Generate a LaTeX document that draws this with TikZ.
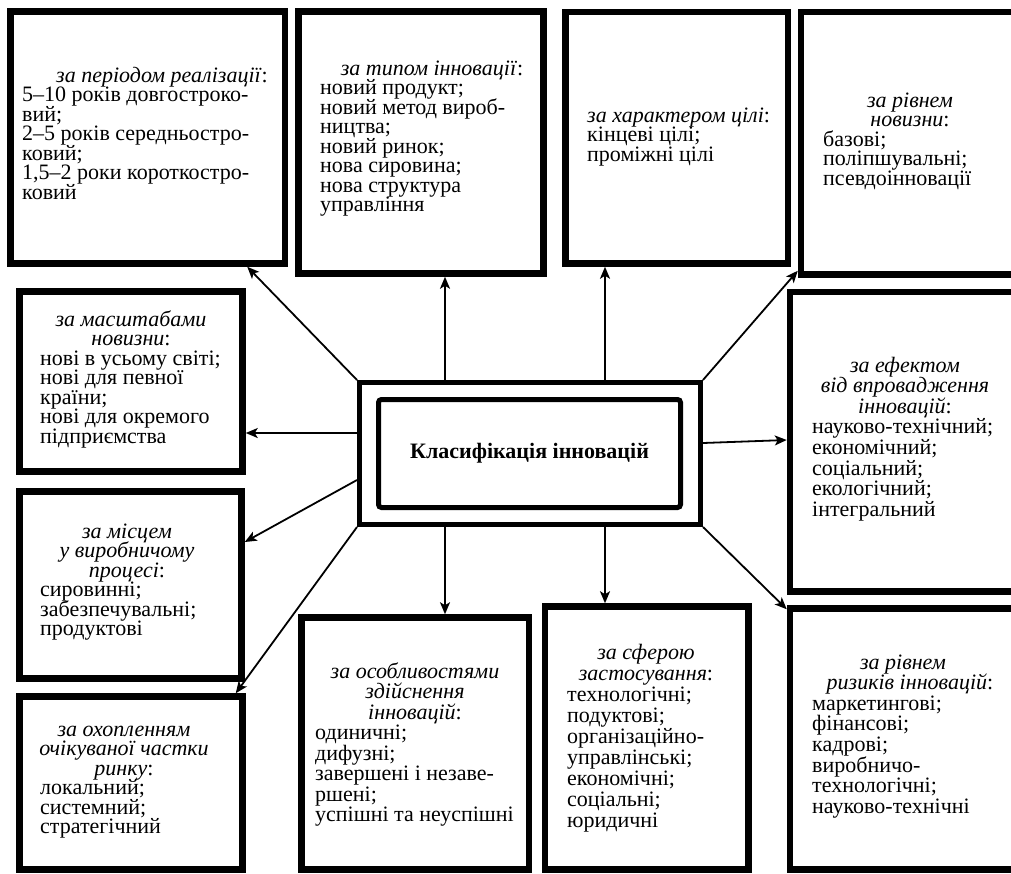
\documentclass[tikz,border=0pt]{standalone}
\usepackage{fontspec}
\setmainfont{Liberation Serif}
\usetikzlibrary{arrows.meta,calc}
\newcommand\myfnt[1]{\fontsize{22}{#1}\selectfont\setlength{\lineskiplimit}{-100pt}\setlength{\lineskip}{0pt}}
\begin{document}
\begin{tikzpicture}[x=1pt,y=-1pt,
  box/.style={draw, line width=6.5pt, inner sep=0pt},
  cbox/.style={draw, line width=5pt, inner sep=0pt},
  arr/.style={line width=1.8pt, -{Stealth[length=12pt,width=10pt,inset=3pt]}},
  hd/.style={font=\myfnt{#1}\itshape, inner sep=0pt, align=center, anchor=base},
  hd/.default=19.5,
  hdl/.style={font=\myfnt{#1}\itshape, inner sep=0pt, align=left, anchor=base west},
  hdl/.default=19.5,
  ls/.style={font=\myfnt{#1}, inner sep=0pt, align=left, anchor=base west},
  ls/.default=19.5,
]
\useasboundingbox (0,0) rectangle (1011,873);
% boxes
\node[box, minimum width=274.5pt, minimum height=252pt] (b1) at (147.75,137.5) {};
\node[box, minimum width=245pt, minimum height=262pt] (b2) at (421,142.5) {};
\node[box, minimum width=222.5pt, minimum height=251.5pt] (b3) at (676.75,137.75) {};
\node[box, minimum width=215pt, minimum height=262.5pt] (b4) at (908.5,143.25) {};
\node[box, minimum width=223pt, minimum height=180pt] (b5) at (131,381.5) {};
\node[box, minimum width=222pt, minimum height=187pt] (b6) at (130.5,585) {};
\node[box, minimum width=223pt, minimum height=173pt] (b7) at (131,783) {};
\node[box, minimum width=227.5pt, minimum height=252pt] (b8) at (415.25,743.5) {};
\node[box, minimum width=203.5pt, minimum height=263pt] (b9) at (646.75,738) {};
\node[box, minimum width=226pt, minimum height=299.5pt] (b10) at (903,441.75) {};
\node[box, minimum width=226pt, minimum height=261pt] (b11) at (903,739) {};
% centre
\node[cbox, minimum width=341pt, minimum height=142pt] (c) at (530,453.5) {};
\node[cbox, rounded corners=3pt, minimum width=302pt, minimum height=108pt,
      font=\myfnt{19.5}\bfseries] (ci) at (529.5,453.5) {Класифікація інновацій};
% texts (anchor = baseline of the last line)
\node[hd] (h1) at (162,82) {за періодом реалізації\textup{:}};
\node[ls] (l1) at (22,199) {5–10 років довгостроко-\\вий;\\2–5 років середньостро-\\ковий;\\1,5–2 роки короткостро-\\ковий};
\node[hd] (h2) at (432,75) {за типом інновації\textup{:}};
\node[ls] (l2) at (320,211.5) {новий продукт;\\новий метод вироб-\\ництва;\\новий ринок;\\нова сировина;\\нова структура\\управління};
\node[hdl] (h3) at (587,122) {за характером цілі\textup{:}};
\node[ls] (l3) at (587,161) {кінцеві цілі;\\проміжні цілі};
\node[hd] (h4) at (910,126.5) {за рівнем\\новизни\textup{:}};
\node[ls] (l4) at (823,185) {базові;\\поліпшувальні;\\псевдоінновації};
\node[hd] (h5) at (131,345.5) {за масштабами\\новизни\textup{:}};
\node[ls] (l5) at (40,443) {нові в усьому світі;\\нові для певної\\країни;\\нові для окремого\\підприємства};
\node[hd] (h6) at (127,577) {за місцем\\у виробничому\\процесі\textup{:}};
\node[ls] (l6) at (40,635.5) {сировинні;\\забезпечувальні;\\продуктові};
\node[hd] (h7) at (124,775) {за охопленням\\очікуваної частки\\ринку\textup{:}};
\node[ls] (l7) at (40,833.5) {локальний;\\системний;\\стратегічний};
\node[hd=20.5] (h8) at (415,719) {за особливостями\\здійснення\\інновацій\textup{:}};
\node[ls=20.5] (l8) at (315,821.5) {одиничні;\\дифузні;\\завершені і незаве-\\ршені;\\успішні та неуспішні};
\node[hd=21] (h9) at (646,680) {за сферою\\застосування\textup{:}};
\node[ls=21] (l9) at (567,827) {технологічні;\\подуктові;\\організаційно-\\управлінські;\\економічні;\\соціальні;\\юридичні};
\node[hd=20.6] (h10) at (905,413.2) {за ефектом\\від впровадження\\інновацій\textup{:}};
\node[ls=20.6] (l10) at (812,516.2) {науково-технічний;\\економічний;\\соціальний;\\екологічний;\\інтегральний};
\node[hd=20.6] (h11) at (903,689.6) {за рівнем\\\hspace*{14pt}ризиків інновацій\textup{:}};
\node[ls=20.6] (l11) at (812,813.2) {маркетингові;\\фінансові;\\кадрові;\\виробничо-\\технологічні;\\науково-технічні};
% arrows
\draw[arr] (c.north west) -- ($(b1.south east)+(-41,0)$);
\draw[arr] ($(c.west)+(0,-20.5)$) coordinate (s2) -- (s2 -| b5.east);
\draw[arr] ($(c.west)+(0,26.5)$) -- ($(b6.east)+(0,-43)$);
\draw[arr] (c.south west) -- ($(b7.north east)+(-10,0)$);
\draw[arr] ($(c.north)+(-85,0)$) coordinate (s5) -- (s5 |- b2.south);
\draw[arr] ($(c.north)+(75,0)$) coordinate (s6) -- (s6 |- b3.south);
\draw[arr] (c.north east) -- ($(b4.south west)+(0,-7)$);
\draw[arr] ($(c.east)+(0,-10.5)$) -- ($(b10.west)+(0,-1.75)$);
\draw[arr] (c.south east) -- ($(b11.north west)+(0,4)$);
\draw[arr] ($(c.south)+(-85,0)$) coordinate (s10) -- (s10 |- b8.north);
\draw[arr] ($(c.south)+(75,0)$) coordinate (s11) -- (s11 |- b9.north);
\end{tikzpicture}
\end{document}
